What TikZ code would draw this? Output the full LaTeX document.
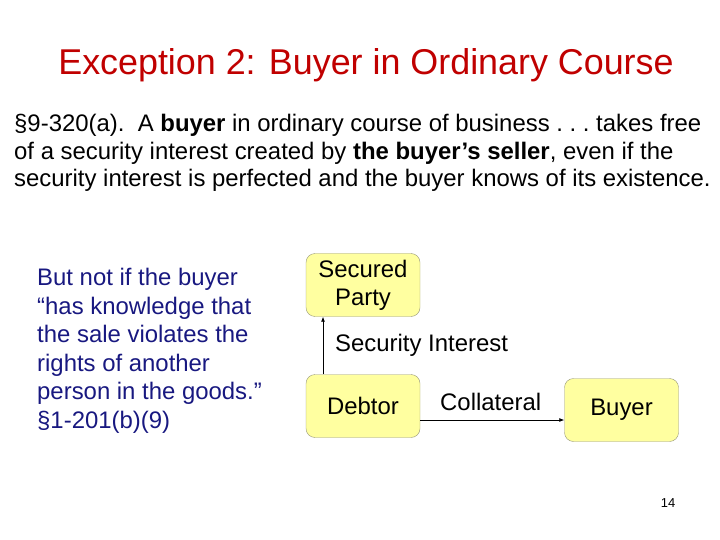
\documentclass[tikz,border=0pt]{standalone}
\usepackage{fontspec}
\setmainfont{Liberation Sans}
\definecolor{titlered}{RGB}{192,0,0}
\definecolor{notenavy}{RGB}{24,24,128}
\definecolor{boxfill}{RGB}{255,255,160}
\definecolor{boxline}{RGB}{150,150,120}
\tikzset{
  party/.style={draw=boxline, fill=boxfill, rounded corners=9bp, minimum width=114bp, minimum height=63bp, inner sep=0pt, align=center, font=\fontsize{24}{28}\selectfont},
  arr/.style={draw, thick, -{Latex[length=5bp,width=4bp]}},
  lbl/.style={anchor=base west, inner sep=0pt, font=\fontsize{24}{28}\selectfont}
}
\usetikzlibrary{arrows.meta}
\begin{document}
\begin{tikzpicture}[x=1bp, y=-1bp]
\useasboundingbox (0,0) rectangle (720,540);
\node[text=titlered, anchor=base, inner sep=0pt, font=\fontsize{36}{40}\selectfont] (title) at (366,75) {Exception 2: Buyer in Ordinary Course};
% base of a multi-line node = last line
\node[anchor=base west, inner sep=0pt, align=left, font=\fontsize{24}{28}\selectfont] (rule) at (14,187) {\S9-320(a).\ \ A \textbf{buyer} in ordinary course of business .\ .\ .\ takes free\\of a security interest created by \textbf{the buyer’s seller}, even if the\\security interest is perfected and the buyer knows of its existence.};
\node[anchor=base west, inner sep=0pt, align=left, text=notenavy, font=\fontsize{24}{28.6}\selectfont] (note) at (37,428) {But not if the buyer\\“has knowledge that\\the sale violates the\\rights of another\\person in the goods.”\\\S1-201(b)(9)};
\node[party] (secured) at (363,285) {Secured\\Party};
\node[party] (debtor) at (363,406) {Debtor};
\node[party] (buyer) at (621.5,410) {Buyer};
\coordinate (dtop) at ([xshift=-40bp]debtor.north);
\coordinate (dright) at ([yshift=-14bp]debtor.east);
\path[arr] (dtop) -- (dtop |- secured.south);
\path[arr] (dright) -- (dright -| buyer.west);
\node[lbl] (interest) at (335,351) {Security Interest};
\node[lbl] (collateral) at (440,410) {Collateral};
\node[inner sep=0pt, font=\fontsize{13}{15}\selectfont] (page) at (668,503) {14};
\end{tikzpicture}
\end{document}
